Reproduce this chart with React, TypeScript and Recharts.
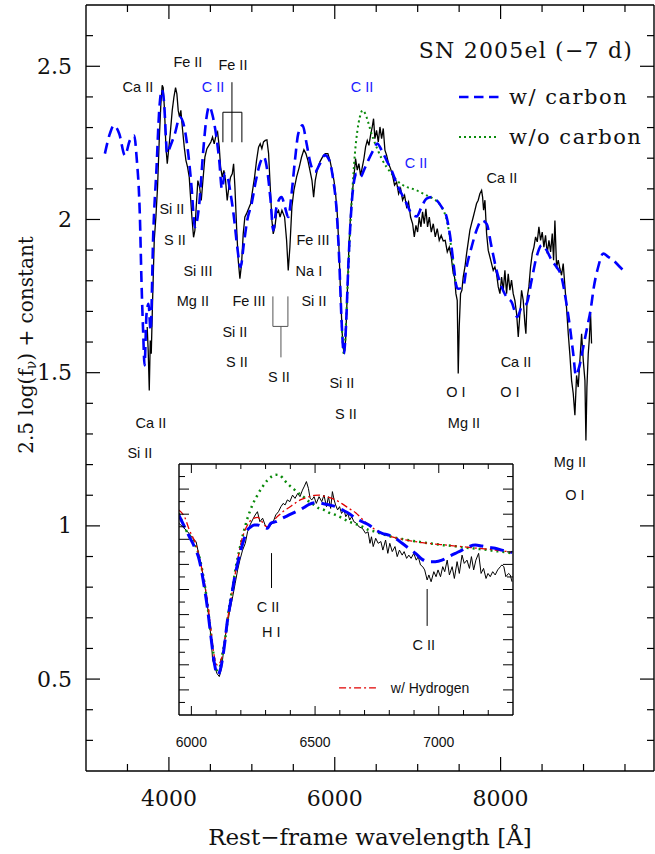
import React from 'react';
import { LineChart, Line, XAxis, YAxis, ReferenceDot, ReferenceLine, ReferenceArea } from 'recharts';

// SN 2005el, -7 d: observed spectrum (rest frame)
const obsWave = [
  3738, 3750, 3763, 3775, 3787, 3803, 3823, 3843, 3863, 3883, 3903, 3919, 3931, 3947, 3964, 3980, 3996, 4016, 4040,
  4060, 4080, 4096, 4112, 4128, 4144, 4165, 4185, 4205, 4225, 4245, 4261, 4277, 4297, 4313, 4329, 4349, 4370, 4390,
  4410, 4434, 4458, 4482, 4506, 4526, 4546, 4567, 4587, 4607, 4623, 4643, 4663, 4683, 4703, 4723, 4743, 4764, 4780,
  4796, 4816, 4836, 4856, 4876, 4896, 4916, 4936, 4960, 4985, 5009, 5033, 5057, 5081, 5101, 5121, 5141, 5162, 5182,
  5202, 5222, 5242, 5258, 5278, 5298, 5322, 5340, 5363, 5395, 5419, 5439, 5459, 5483, 5507, 5540, 5572, 5600, 5628,
  5652, 5676, 5700, 5725, 5745, 5765, 5789, 5821, 5853, 5885, 5917, 5942, 5966, 5990, 6010, 6030, 6050, 6070, 6090,
  6110, 6131, 6151, 6171, 6191, 6211, 6231, 6251, 6271, 6291, 6311, 6332, 6352, 6372, 6392, 6412, 6432, 6452, 6468,
  6484, 6504, 6525, 6545, 6565, 6585, 6605, 6625, 6649, 6673, 6697, 6721, 6746, 6770, 6794, 6818, 6842, 6866, 6890,
  6914, 6939, 6959, 6979, 6999, 7019, 7039, 7059, 7079, 7099, 7119, 7140, 7164, 7188, 7212, 7236, 7260, 7284, 7308,
  7332, 7357, 7381, 7405, 7429, 7445, 7461, 7477, 7489, 7501, 7517, 7533, 7549, 7570, 7590, 7610, 7630, 7650, 7670,
  7690, 7710, 7730, 7750, 7771, 7783, 7795, 7811, 7831, 7851, 7871, 7891, 7911, 7931, 7951, 7972, 7992, 8012, 8032,
  8052, 8072, 8092, 8112, 8132, 8152, 8172, 8193, 8213, 8233, 8253, 8273, 8293, 8305, 8321, 8341, 8361, 8382, 8402,
  8422, 8442, 8462, 8482, 8502, 8522, 8542, 8562, 8583, 8603, 8623, 8639, 8655, 8675, 8695, 8715, 8735, 8755, 8776,
  8796, 8816, 8836, 8856, 8876, 8896, 8916, 8936, 8956, 8977, 8997, 9017, 9029, 9041, 9057, 9069, 9085, 9097,
];
const obsFlux = [
  1.649, 1.573, 1.442, 1.605, 1.562, 1.736, 1.932, 2.008, 2.106, 2.258, 2.378, 2.438, 2.43, 2.356, 2.236, 2.182, 2.225,
  2.28, 2.356, 2.399, 2.43, 2.41, 2.356, 2.334, 2.356, 2.291, 2.236, 2.193, 2.171, 2.138, 2.073, 2.008, 1.942, 1.964,
  2.04, 2.127, 2.106, 2.062, 2.127, 2.204, 2.231, 2.242, 2.253, 2.269, 2.247, 2.274, 2.285, 2.236, 2.171, 2.138, 2.16,
  2.127, 2.062, 2.106, 2.138, 2.149, 2.182, 2.106, 1.975, 1.866, 1.807, 1.855, 1.953, 2.008, 2.019, 2.035, 2.051, 2.095,
  2.138, 2.193, 2.236, 2.247, 2.231, 2.253, 2.258, 2.26, 2.215, 2.106, 1.997, 1.953, 1.975, 2.02, 2.03, 2.008, 2.03,
  2.008, 1.932, 1.834, 1.91, 2.041, 2.095, 2.139, 2.171, 2.204, 2.228, 2.215, 2.193, 2.161, 2.128, 2.073, 2.128, 2.161,
  2.188, 2.204, 2.215, 2.215, 2.193, 2.161, 2.128, 2.084, 2.019, 1.91, 1.758, 1.627, 1.562, 1.606, 1.758, 1.91, 2.019,
  2.084, 2.139, 2.199, 2.161, 2.182, 2.144, 2.171, 2.199, 2.237, 2.258, 2.242, 2.275, 2.302, 2.329, 2.264, 2.291, 2.253,
  2.302, 2.264, 2.297, 2.226, 2.21, 2.182, 2.166, 2.144, 2.112, 2.122, 2.084, 2.101, 2.063, 2.079, 2.041, 2.057, 2.008,
  1.986, 1.943, 1.981, 1.959, 2.008, 1.976, 2.025, 1.986, 2.035, 1.976, 2.008, 1.959, 1.986, 1.943, 1.97, 1.932, 1.948,
  1.93, 1.932, 1.894, 1.91, 1.878, 1.823, 1.812, 1.758, 1.736, 1.497, 1.649, 1.758, 1.769, 1.812, 1.845, 1.889, 1.927,
  1.965, 1.987, 2.008, 2.03, 2.052, 2.063, 2.084, 2.095, 2.073, 2.03, 2.063, 1.954, 1.899, 1.878, 1.856, 1.834, 1.845,
  1.823, 1.78, 1.758, 1.812, 1.769, 1.834, 1.758, 1.823, 1.769, 1.802, 1.758, 1.736, 1.693, 1.617, 1.693, 1.769, 1.736,
  1.66, 1.627, 1.747, 1.78, 1.845, 1.889, 1.91, 1.943, 1.927, 1.976, 1.932, 1.959, 1.91, 1.948, 1.889, 1.932, 1.894,
  1.954, 1.867, 1.997, 1.845, 1.867, 1.84, 1.818, 1.856, 1.78, 1.709, 1.627, 1.557, 1.475, 1.432, 1.361, 1.491, 1.453,
  1.54, 1.627, 1.54, 1.475, 1.279, 1.453, 1.562, 1.606, 1.693, 1.595,
];

// synthetic spectrum with carbon
const carbonWave = [
  3228, 3288, 3336, 3401, 3469, 3529, 3582, 3610, 3650, 3670, 3690, 3706, 3730, 3754, 3779, 3811, 3851, 3883, 3915,
  3939, 3980, 4012, 4072, 4132, 4185, 4233, 4273, 4313, 4366, 4414, 4454, 4486, 4526, 4567, 4607, 4639, 4675, 4707,
  4744, 4784, 4824, 4864, 4904, 4944, 4997, 5049, 5097, 5145, 5186, 5226, 5258, 5298, 5359, 5399, 5439, 5479, 5520,
  5560, 5612, 5660, 5708, 5761, 5821, 5881, 5934, 5982, 6022, 6054, 6082, 6110, 6135, 6163, 6191, 6223, 6263, 6311,
  6352, 6404, 6464, 6512, 6565, 6625, 6685, 6746, 6806, 6866, 6926, 6987, 7047, 7107, 7168, 7228, 7288, 7349, 7389,
  7437, 7469, 7489, 7549, 7590, 7650, 7710, 7771, 7831, 7891, 7951, 8012, 8072, 8132, 8201, 8253, 8313, 8374, 8434,
  8494, 8554, 8615, 8675, 8735, 8788, 8836, 8876, 8908, 8948, 8997, 9045, 9085, 9125, 9177, 9238, 9298, 9358, 9439,
  9499,
];
const carbonFlux = [
  2.215, 2.28, 2.307, 2.28, 2.209, 2.258, 2.274, 2.204, 2.008, 1.79, 1.627, 1.524, 1.692, 1.725, 1.638, 1.953, 2.171,
  2.356, 2.423, 2.389, 2.215, 2.236, 2.28, 2.334, 2.302, 2.215, 2.106, 1.975, 2.051, 2.225, 2.334, 2.369, 2.34, 2.28,
  2.193, 2.1, 2.149, 2.138, 2.084, 2.008, 1.91, 1.845, 1.921, 1.997, 2.051, 2.127, 2.182, 2.204, 2.16, 2.062, 1.964,
  2.041, 2.073, 2.041, 2.008, 2.084, 2.193, 2.28, 2.307, 2.248, 2.182, 2.155, 2.182, 2.21, 2.193, 2.128, 2.03, 1.867,
  1.671, 1.562, 1.649, 1.845, 1.997, 2.106, 2.15, 2.139, 2.161, 2.193, 2.226, 2.248, 2.226, 2.193, 2.161, 2.117, 2.084,
  2.052, 2.019, 2.01, 2.041, 2.068, 2.073, 2.063, 2.041, 2.008, 1.95, 1.845, 1.78, 1.774, 1.78, 1.845, 1.91, 1.965,
  1.997, 1.986, 1.91, 1.834, 1.78, 1.747, 1.731, 1.682, 1.714, 1.725, 1.802, 1.878, 1.916, 1.9, 1.867, 1.845, 1.812,
  1.736, 1.649, 1.562, 1.491, 1.519, 1.584, 1.649, 1.704, 1.78, 1.845, 1.889, 1.878, 1.867, 1.845, 1.829,
];

// synthetic spectrum without carbon (only where it departs from the carbon model)
const noCarbonWave = [
  6082, 6110, 6151, 6183, 6215, 6243, 6271, 6303, 6336, 6368, 6400, 6432, 6472, 6512, 6565, 6625, 6685, 6746, 6806,
  6866, 6926, 6987, 7047, 7107, 7168, 7228, 7288, 7340, 7381, 7413, 7441, 7469,
];
const noCarbonFlux = [
  1.671, 1.562, 1.758, 1.954, 2.106, 2.215, 2.286, 2.335, 2.356, 2.345, 2.32, 2.29, 2.258, 2.231, 2.199, 2.171, 2.15,
  2.128, 2.115, 2.106, 2.101, 2.095, 2.087, 2.079, 2.071, 2.06, 2.041, 2.008, 1.954, 1.889, 1.823, 1.78,
];

// inset: Si II 6355 / C II 6580 region
const insetObsWave = [
  5949, 5965, 5985, 6005, 6019, 6032, 6046, 6059, 6070, 6079, 6086, 6097, 6103, 6113, 6122, 6129, 6137, 6146, 6156,
  6167, 6177, 6187, 6196, 6207, 6218, 6227, 6237, 6247, 6258, 6267, 6277, 6288, 6298, 6309, 6321, 6331, 6341, 6352,
  6362, 6371, 6379, 6388, 6398, 6409, 6419, 6430, 6439, 6449, 6457, 6465, 6473, 6480, 6487, 6496, 6505, 6516, 6527,
  6536, 6546, 6554, 6563, 6570, 6577, 6583, 6591, 6599, 6607, 6617, 6624, 6632, 6640, 6648, 6657, 6667, 6677, 6691,
  6704, 6714, 6722, 6728, 6735, 6745, 6755, 6766, 6774, 6785, 6794, 6802, 6812, 6823, 6832, 6841, 6852, 6860, 6870,
  6879, 6888, 6899, 6909, 6917, 6926, 6935, 6943, 6953, 6960, 6969, 6980, 6989, 6997, 7007, 7016, 7024, 7034, 7043,
  7054, 7063, 7074, 7083, 7094, 7103, 7114, 7124, 7132, 7141, 7150, 7161, 7171, 7181, 7191, 7199, 7208, 7218, 7228,
  7238, 7249, 7255, 7263, 7271, 7282, 7289, 7296,
];
const insetObsFlux = [
  0.764, 0.75, 0.73, 0.704, 0.691, 0.631, 0.564, 0.485, 0.392, 0.312, 0.219, 0.186, 0.166, 0.153, 0.186, 0.246, 0.312,
  0.365, 0.418, 0.471, 0.524, 0.578, 0.617, 0.657, 0.684, 0.73, 0.757, 0.777, 0.797, 0.81, 0.77, 0.784, 0.757, 0.744,
  0.757, 0.77, 0.797, 0.81, 0.83, 0.843, 0.837, 0.857, 0.85, 0.876, 0.863, 0.883, 0.87, 0.896, 0.912, 0.93, 0.903,
  0.863, 0.857, 0.87, 0.843, 0.87, 0.85, 0.876, 0.83, 0.87, 0.823, 0.89, 0.857, 0.837, 0.817, 0.83, 0.803, 0.817, 0.79,
  0.803, 0.777, 0.79, 0.77, 0.764, 0.75, 0.744, 0.724, 0.73, 0.684, 0.71, 0.671, 0.704, 0.684, 0.691, 0.657, 0.697,
  0.644, 0.684, 0.651, 0.671, 0.631, 0.657, 0.637, 0.651, 0.624, 0.637, 0.624, 0.644, 0.617, 0.631, 0.598, 0.591, 0.578,
  0.538, 0.558, 0.531, 0.571, 0.551, 0.578, 0.551, 0.591, 0.571, 0.617, 0.558, 0.591, 0.544, 0.611, 0.564, 0.637, 0.604,
  0.617, 0.584, 0.631, 0.578, 0.617, 0.644, 0.564, 0.584, 0.544, 0.564, 0.551, 0.571, 0.558, 0.578, 0.591, 0.598, 0.591,
  0.551, 0.564, 0.558, 0.531,
];
const insetCarbonWave = [
  5949, 5972, 5992, 6012, 6032, 6052, 6066, 6079, 6093, 6106, 6120, 6133, 6146, 6160, 6173, 6187, 6200, 6214, 6227,
  6241, 6254, 6267, 6288, 6308, 6321, 6341, 6368, 6395, 6422, 6449, 6476, 6503, 6530, 6556, 6583, 6610, 6637, 6664,
  6691, 6718, 6745, 6771, 6798, 6825, 6852, 6879, 6906, 6933, 6960, 6986, 7013, 7040, 7067, 7094, 7121, 7148, 7175,
  7202, 7228, 7255, 7296,
];
const insetCarbonFlux = [
  0.797, 0.75, 0.71, 0.671, 0.617, 0.511, 0.418, 0.312, 0.206, 0.159, 0.193, 0.272, 0.378, 0.458, 0.538, 0.604, 0.657,
  0.704, 0.737, 0.75, 0.757, 0.757, 0.75, 0.744, 0.764, 0.77, 0.784, 0.797, 0.81, 0.823, 0.839, 0.846, 0.843, 0.837,
  0.83, 0.817, 0.803, 0.784, 0.77, 0.757, 0.737, 0.724, 0.717, 0.704, 0.684, 0.664, 0.644, 0.62, 0.611, 0.611, 0.617,
  0.631, 0.644, 0.657, 0.671, 0.677, 0.673, 0.668, 0.664, 0.657, 0.647,
];
const insetNoCarbonWave = [
  5949, 5978, 6005, 6032, 6059, 6079, 6093, 6103, 6113, 6126, 6140, 6153, 6167, 6180, 6194, 6210, 6227, 6247, 6267,
  6288, 6308, 6328, 6341, 6358, 6375, 6395, 6415, 6435, 6456, 6476, 6496, 6516, 6536, 6556, 6583, 6610, 6637, 6664,
  6691, 6718, 6745, 6771, 6798, 6825, 6852, 6879, 6906, 6933, 6960, 6986, 7013, 7040, 7067, 7094, 7121, 7148, 7175,
  7202, 7228, 7255, 7296,
];
const insetNoCarbonFlux = [
  0.803, 0.737, 0.697, 0.631, 0.485, 0.325, 0.219, 0.179, 0.186, 0.246, 0.325, 0.432, 0.511, 0.591, 0.657, 0.724,
  0.784, 0.837, 0.876, 0.91, 0.936, 0.952, 0.957, 0.955, 0.936, 0.916, 0.899, 0.883, 0.867, 0.85, 0.837, 0.823, 0.817,
  0.806, 0.797, 0.784, 0.77, 0.761, 0.75, 0.737, 0.73, 0.721, 0.713, 0.706, 0.701, 0.696, 0.692, 0.688, 0.684, 0.681,
  0.677, 0.675, 0.672, 0.668, 0.665, 0.663, 0.66, 0.657, 0.653, 0.651, 0.644,
];
const insetHydrogenWave = [
  5949, 5972, 5992, 6019, 6046, 6066, 6079, 6093, 6106, 6120, 6133, 6146, 6160, 6173, 6187, 6200, 6214, 6227, 6241,
  6254, 6267, 6281, 6294, 6308, 6321, 6335, 6355, 6375, 6395, 6415, 6435, 6456, 6476, 6496, 6516, 6536, 6556, 6583,
  6610, 6637, 6664, 6691, 6718, 6745, 6771, 6798, 6825, 6852, 6879, 6906, 6933, 6960, 6986, 7013, 7040, 7067, 7094,
  7121, 7148, 7175, 7202, 7228, 7255, 7296,
];
const insetHydrogenFlux = [
  0.817, 0.79, 0.737, 0.677, 0.564, 0.445, 0.339, 0.232, 0.199, 0.219, 0.286, 0.378, 0.458, 0.538, 0.617, 0.684, 0.73,
  0.757, 0.777, 0.784, 0.787, 0.777, 0.757, 0.75, 0.757, 0.777, 0.797, 0.814, 0.827, 0.841, 0.854, 0.863, 0.87, 0.875,
  0.876, 0.872, 0.867, 0.857, 0.841, 0.823, 0.806, 0.78, 0.757, 0.737, 0.724, 0.713, 0.706, 0.7, 0.695, 0.691, 0.687,
  0.684, 0.681, 0.679, 0.676, 0.673, 0.671, 0.668, 0.665, 0.663, 0.66, 0.657, 0.655, 0.647,
];

// axis ticks
const xTicks = [3500, 4000, 4500, 5000, 5500, 6000, 6500, 7000, 7500, 8000, 8500, 9000, 9500];
const yTicks = [0.3, 0.4, 0.5, 0.6, 0.7, 0.8, 0.9, 1, 1.1, 1.2, 1.3, 1.4, 1.5, 1.6, 1.7, 1.8, 1.9, 2, 2.1, 2.2, 2.3, 2.4, 2.5, 2.6];
const insetXTicks = [6000, 6100, 6200, 6300, 6400, 6500, 6600, 6700, 6800, 6900, 7000, 7100, 7200];
const insetYTicks = [0.05, 0.1, 0.15, 0.2, 0.25, 0.3, 0.35, 0.4, 0.45, 0.5, 0.55, 0.6, 0.65, 0.7, 0.75, 0.8, 0.85, 0.9, 0.95];

// line identifications: text, wavelength, level, colour
const lineIds = [
  { t: 'Ca II', w: 3626, v: 2.431 },
  { t: 'Fe II', w: 4229, v: 2.513 },
  { t: 'Fe II', w: 4772, v: 2.503 },
  { t: 'C II', w: 4531, v: 2.431, c: '#1a1aff' },
  { t: 'Si II', w: 4036, v: 2.033 },
  { t: 'S II', w: 4072, v: 1.932 },
  { t: 'Si III', w: 4350, v: 1.831 },
  { t: 'Mg II', w: 4289, v: 1.733 },
  { t: 'Fe III', w: 4965, v: 1.733 },
  { t: 'Si II', w: 4796, v: 1.632 },
  { t: 'S II', w: 4820, v: 1.534 },
  { t: 'S II', w: 5327, v: 1.485 },
  { t: 'Fe III', w: 5737, v: 1.932 },
  { t: 'Na I', w: 5688, v: 1.831 },
  { t: 'Si II', w: 5749, v: 1.733 },
  { t: 'Si II', w: 6086, v: 1.465 },
  { t: 'S II', w: 6135, v: 1.364 },
  { t: 'C II', w: 6328, v: 2.431, c: '#1a1aff' },
  { t: 'C II', w: 6979, v: 2.183, c: '#1a1aff' },
  { t: 'Ca II', w: 8016, v: 2.134 },
  { t: 'O I', w: 7461, v: 1.436 },
  { t: 'Mg II', w: 7558, v: 1.335 },
  { t: 'Ca II', w: 8185, v: 1.534 },
  { t: 'O I', w: 8112, v: 1.436 },
  { t: 'Ca II', w: 3783, v: 1.335 },
  { t: 'Si II', w: 3650, v: 1.237 },
  { t: 'Mg II', w: 8836, v: 1.208 },
  { t: 'O I', w: 8896, v: 1.1 },
];

// bracket strokes for blended lines: [w1, v1, w2, v2, colour]
const brackets: [number, number, number, number, string][] = [
  [4760, 2.448, 4760, 2.252, '#000'],
  [4651, 2.35, 4880, 2.35, '#000'],
  [4651, 2.35, 4651, 2.252, '#000'],
  [4880, 2.35, 4880, 2.252, '#000'],
  [5254, 1.749, 5254, 1.651, '#555'],
  [5435, 1.749, 5435, 1.651, '#555'],
  [5254, 1.651, 5435, 1.651, '#555'],
  [5351, 1.651, 5351, 1.55, '#555'],
];

const insetIds = [
  { t: 'C II', w: 6310, v: 0.43 },
  { t: 'H I', w: 6323, v: 0.331 },
  { t: 'C II', w: 6939, v: 0.279 },
];
const insetMarks: [number, number, number, number][] = [
  [6324, 0.645, 6324, 0.506],
  [6953, 0.502, 6953, 0.355],
];

const zip = (w: number[], f: number[]) => w.map((x, i) => ({ x, y: f[i] }));

const obs = zip(obsWave, obsFlux);
const withCarbon = zip(carbonWave, carbonFlux);
const noCarbon = zip(noCarbonWave, noCarbonFlux);
const insetObs = zip(insetObsWave, insetObsFlux);
const insetCarbon = zip(insetCarbonWave, insetCarbonFlux);
const insetNoCarbon = zip(insetNoCarbonWave, insetNoCarbonFlux);
const insetHydrogen = zip(insetHydrogenWave, insetHydrogenFlux);

const SERIF = "'DejaVu Serif', serif";
const SANS = "'Liberation Sans', Arial, sans-serif";

const isMajorY = (v: number) => Math.abs(v * 2 - Math.round(v * 2)) < 1e-6;

const MainTick = ({ x, y, payload, side }: any) => {
  const v = payload.value;
  if (side === 'bottom' || side === 'top') {
    const major = v % 2000 === 0;
    const len = major ? 14 : 7;
    const d = side === 'bottom' ? -1 : 1;
    return (
      <g>
        <line x1={x} x2={x} y1={y} y2={y + d * len} stroke="#000" strokeWidth={1.2} />
        {side === 'bottom' && major && (
          <text x={x} y={y + 27} textAnchor="middle" dominantBaseline="central" fontFamily={SERIF} fontSize={22} fill="#111">
            {v}
          </text>
        )}
      </g>
    );
  }
  const major = isMajorY(v);
  const len = major ? 14 : 7;
  const d = side === 'left' ? 1 : -1;
  return (
    <g>
      <line x1={x} x2={x + d * len} y1={y} y2={y} stroke="#000" strokeWidth={1.2} />
      {side === 'left' && major && (
        <text x={x - 14} y={y} textAnchor="end" dominantBaseline="central" fontFamily={SERIF} fontSize={22} fill="#111">
          {String(v)}
        </text>
      )}
    </g>
  );
};

const InsetTick = ({ x, y, payload, side }: any) => {
  const v = payload.value;
  if (side === 'bottom' || side === 'top') {
    const major = v % 500 === 0;
    const len = major ? 9 : 5;
    const d = side === 'bottom' ? -1 : 1;
    return (
      <g>
        <line x1={x} x2={x} y1={y} y2={y + d * len} stroke="#000" strokeWidth={1} />
        {side === 'bottom' && major && (
          <text x={x} y={y + 27} textAnchor="middle" dominantBaseline="central" fontFamily={SANS} fontSize={14} fill="#111">
            {v}
          </text>
        )}
      </g>
    );
  }
  const major = Math.abs(v * 10 - Math.round(v * 10)) < 1e-6;
  const len = major ? 10 : 6;
  const d = side === 'left' ? 1 : -1;
  return <line x1={x} x2={x + d * len} y1={y} y2={y} stroke="#000" strokeWidth={1} />;
};

const idText = (t: string, color: string, size: number) => (p: any) => (
  <text x={p.cx} y={p.cy} textAnchor="middle" dominantBaseline="central" fontFamily={SANS} fontSize={size} fill={color}>
    {t}
  </text>
);

const frame = { stroke: '#000', strokeWidth: 1.4 };

export default function App() {
  return (
    <div style={{ position: 'absolute', left: 0, top: 0, width: 655, height: 854, background: '#fff' }}>
      <LineChart width={655} height={854} margin={{ top: 4, right: 0, bottom: 0, left: 0 }}>
        <XAxis xAxisId="b" type="number" dataKey="x" domain={[3000, 9850]} allowDataOverflow ticks={xTicks} interval={0}
          height={83} tickSize={0} tickMargin={0} tickLine={false} axisLine={frame}
          tick={(p: any) => <MainTick {...p} side="bottom" />} />
        <XAxis xAxisId="t" orientation="top" type="number" dataKey="x" domain={[3000, 9850]} allowDataOverflow ticks={xTicks}
          interval={0} height={1} tickSize={0} tickMargin={0} tickLine={false} axisLine={frame}
          tick={(p: any) => <MainTick {...p} side="top" />} />
        <YAxis yAxisId="l" type="number" domain={[0.2, 2.7]} allowDataOverflow ticks={yTicks} interval={0} width={86}
          tickSize={0} tickMargin={0} tickLine={false} axisLine={frame}
          tick={(p: any) => <MainTick {...p} side="left" />} />
        <YAxis yAxisId="r" orientation="right" type="number" domain={[0.2, 2.7]} allowDataOverflow ticks={yTicks} interval={0}
          width={1} tickSize={0} tickMargin={0} tickLine={false} axisLine={frame}
          tick={(p: any) => <MainTick {...p} side="right" />} />

        <Line xAxisId="b" yAxisId="l" data={obs} dataKey="y" type="linear" stroke="#000" strokeWidth={1.3}
          dot={false} activeDot={false} isAnimationActive={false} />
        <Line xAxisId="b" yAxisId="l" data={noCarbon} dataKey="y" type="monotone" stroke="#0a8a0a" strokeWidth={2}
          strokeDasharray="2 3.2" dot={false} activeDot={false} isAnimationActive={false} />
        <Line xAxisId="b" yAxisId="l" data={withCarbon} dataKey="y" type="monotone" stroke="#0000ff" strokeWidth={2.6}
          strokeDasharray="11 6" dot={false} activeDot={false} isAnimationActive={false} />

        {brackets.map((b, i) => (
          <ReferenceLine key={'b' + i} xAxisId="b" yAxisId="l" segment={[{ x: b[0], y: b[1] }, { x: b[2], y: b[3] }]}
            stroke={b[4]} strokeWidth={1} ifOverflow="visible" />
        ))}
        {lineIds.map((l, i) => (
          <ReferenceDot key={'id' + i} xAxisId="b" yAxisId="l" x={l.w} y={l.v} r={1}
            shape={idText(l.t, l.c || '#111', 14.5)} />
        ))}
      </LineChart>

      <svg width={655} height={854} style={{ position: 'absolute', left: 0, top: 0, pointerEvents: 'none' }}>
        <text transform="translate(26,345) rotate(-90)" textAnchor="middle" dominantBaseline="central"
          fontFamily={SERIF} fontSize={20} fill="#111">
          2.5 log(f<tspan fontSize={14} dy={5}>ν</tspan><tspan dy={-5}>) + constant</tspan>
        </text>
        <text x={370} y={837} textAnchor="middle" dominantBaseline="central" fontFamily={SERIF} fontSize={23} fill="#111">
          Rest−frame wavelength [Å]
        </text>
        <text x={633} y={50} textAnchor="end" dominantBaseline="central" fontFamily={SERIF} fontSize={22}
          letterSpacing={1.2} fill="#111">
          SN 2005el (−7 d)
        </text>
        <line x1={459} x2={499} y1={97} y2={97} stroke="#0000ff" strokeWidth={2.6} strokeDasharray="9.5 5.5" />
        <text x={509} y={97} dominantBaseline="central" fontFamily={SERIF} fontSize={21} letterSpacing={1.5} fill="#111">
          w/ carbon
        </text>
        <line x1={459} x2={497} y1={137} y2={137} stroke="#0a8a0a" strokeWidth={2} strokeDasharray="2 3" />
        <text x={509} y={137} dominantBaseline="central" fontFamily={SERIF} fontSize={21} letterSpacing={1.5} fill="#111">
          w/o carbon
        </text>
      </svg>

      <div style={{ position: 'absolute', left: 150, top: 455 }}>
        <LineChart width={380} height={300} margin={{ top: 8, right: 16, bottom: 0, left: 28 }}>
          <XAxis xAxisId="b" type="number" dataKey="x" domain={[5950, 7300]} allowDataOverflow ticks={insetXTicks}
            interval={0} height={40} tickSize={0} tickMargin={0} tickLine={false} axisLine={frame}
            tick={(p: any) => <InsetTick {...p} side="bottom" />} />
          <XAxis xAxisId="t" orientation="top" type="number" dataKey="x" domain={[5950, 7300]} allowDataOverflow
            ticks={insetXTicks} interval={0} height={1} tickSize={0} tickMargin={0} tickLine={false} axisLine={frame}
            tick={(p: any) => <InsetTick {...p} side="top" />} />
          <YAxis yAxisId="l" type="number" domain={[0, 1]} allowDataOverflow ticks={insetYTicks} interval={0} width={1}
            tickSize={0} tickMargin={0} tickLine={false} axisLine={frame}
            tick={(p: any) => <InsetTick {...p} side="left" />} />
          <YAxis yAxisId="r" orientation="right" type="number" domain={[0, 1]} allowDataOverflow ticks={insetYTicks}
            interval={0} width={1} tickSize={0} tickMargin={0} tickLine={false} axisLine={frame}
            tick={(p: any) => <InsetTick {...p} side="right" />} />
          <ReferenceArea xAxisId="b" yAxisId="l" x1={5950} x2={7300} y1={0} y2={1} fill="#fff" fillOpacity={1} stroke="none" />

          <Line xAxisId="b" yAxisId="l" data={insetObs} dataKey="y" type="linear" stroke="#000" strokeWidth={1}
            dot={false} activeDot={false} isAnimationActive={false} />
          <Line xAxisId="b" yAxisId="l" data={insetNoCarbon} dataKey="y" type="monotone" stroke="#0a8a0a" strokeWidth={2.5}
            strokeDasharray="2 4" dot={false} activeDot={false} isAnimationActive={false} />
          <Line xAxisId="b" yAxisId="l" data={insetHydrogen} dataKey="y" type="monotone" stroke="#e00000" strokeWidth={1.3}
            strokeDasharray="7 3 2 3" dot={false} activeDot={false} isAnimationActive={false} />
          <Line xAxisId="b" yAxisId="l" data={insetCarbon} dataKey="y" type="monotone" stroke="#0000ff" strokeWidth={3}
            strokeDasharray="14 7" dot={false} activeDot={false} isAnimationActive={false} />

          {insetMarks.map((m, i) => (
            <ReferenceLine key={'m' + i} xAxisId="b" yAxisId="l" segment={[{ x: m[0], y: m[1] }, { x: m[2], y: m[3] }]}
              stroke="#000" strokeWidth={1} ifOverflow="visible" />
          ))}
          {insetIds.map((l, i) => (
            <ReferenceDot key={'iid' + i} xAxisId="b" yAxisId="l" x={l.w} y={l.v} r={1} shape={idText(l.t, '#111', 14.5)} />
          ))}
          <ReferenceLine xAxisId="b" yAxisId="l" segment={[{ x: 6597, y: 0.108 }, { x: 6746, y: 0.108 }]}
            stroke="#e00000" strokeWidth={1.3} strokeDasharray="7 3 2 3" ifOverflow="visible" />
          <ReferenceDot xAxisId="b" yAxisId="l" x={6806} y={0.108} r={1}
            shape={(p: any) => (
              <text x={p.cx} y={p.cy} dominantBaseline="central" fontFamily={SANS} fontSize={14} fill="#111">
                w/ Hydrogen
              </text>
            )} />
        </LineChart>
      </div>
    </div>
  );
}
